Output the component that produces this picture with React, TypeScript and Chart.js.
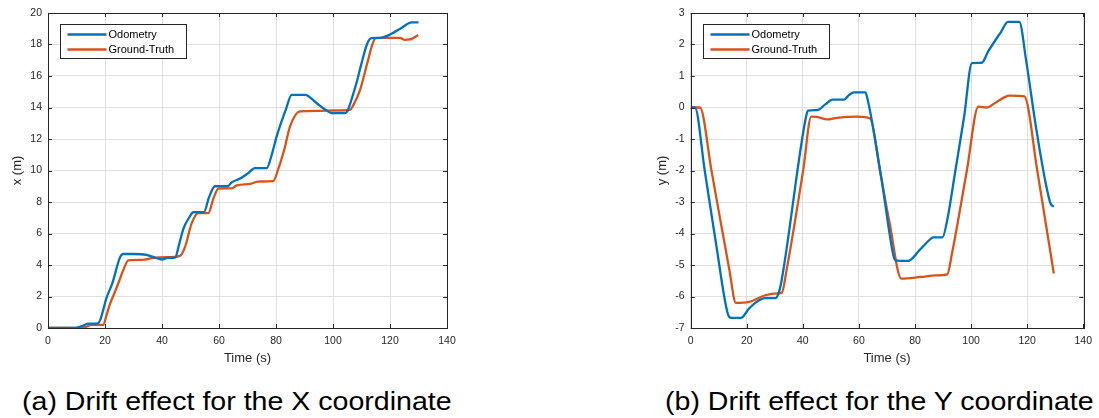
import React, { useEffect, useRef } from 'react';
import { Chart, registerables } from 'chart.js';

Chart.register(...registerables);

// ---------- data ----------
const seriesLabels = ['Odometry', 'Ground-Truth'];
const seriesColors = ['#0072BD', '#D95319'];

const timeTicks = [0, 20, 40, 60, 80, 100, 120, 140];

// (a) X coordinate
const timeOdoX = [0, 8, 10, 12, 14, 17.5, 18.5, 20.5, 22.5, 25.3, 26.4, 30, 34.5, 37, 40, 42, 44.6, 46, 47.5, 49.5, 51, 54.7, 56.5, 58.6, 63, 64.5, 67.5, 70, 72.6, 76.7, 78.5, 80.2, 83.5, 85.5, 90.2, 94.3, 97, 99.5, 104.2, 105, 107, 108.3, 110, 112, 113.5, 116.5, 119, 121, 124, 127.6, 130];
const odoX = [0, 0, 0.03, 0.12, 0.28, 0.3, 0.6, 1.9, 2.8, 4.5, 4.7, 4.7, 4.65, 4.5, 4.35, 4.45, 4.47, 5.3, 6.3, 7.0, 7.35, 7.35, 8.3, 9.0, 9.0, 9.25, 9.5, 9.8, 10.15, 10.15, 11.0, 12.15, 13.9, 14.8, 14.8, 14.27, 13.9, 13.65, 13.65, 13.75, 14.8, 15.6, 16.8, 18.05, 18.4, 18.42, 18.55, 18.73, 19.05, 19.4, 19.4];

const timeGtX = [0, 9, 11, 13, 15.3, 19.4, 20.5, 21.8, 23.5, 25, 26.4, 28.2, 33, 37, 42.8, 46.3, 48.1, 50.4, 52.7, 56.3, 58, 59.8, 64.4, 66.2, 71, 73.8, 79, 80.8, 83, 84.9, 88.4, 95, 100, 106, 107, 109.5, 112, 114, 115, 118, 123.5, 125, 127, 129.9];
const gtX = [0, 0, -0.05, 0.05, 0.2, 0.2, 0.8, 1.55, 2.3, 3.0, 3.67, 4.3, 4.32, 4.45, 4.5, 4.58, 5.15, 6.64, 7.3, 7.3, 8.2, 8.85, 8.87, 9.05, 9.15, 9.3, 9.32, 10.1, 11.4, 12.79, 13.75, 13.78, 13.82, 13.85, 14.1, 15.12, 16.8, 18.1, 18.4, 18.42, 18.42, 18.3, 18.32, 18.6];

// (b) Y coordinate
const timeOdoY = [0, 1.5, 5, 9, 13.2, 14.4, 17.9, 20.8, 23, 25.5, 26.5, 30.2, 31.5, 32.5, 41, 41.8, 45.3, 48, 50.6, 54.7, 56.5, 58.2, 62.3, 63, 68.1, 72.3, 73, 77.5, 81.6, 85.7, 86.5, 89.8, 91.5, 94.4, 97.5, 100.3, 103.8, 106.1, 110.8, 113.1, 117.2, 119.6, 123.1, 126.6, 128.3, 129.5];
const odoY = [0, 0, -2, -4.3, -6.54, -6.68, -6.68, -6.38, -6.2, -6.07, -6.05, -6.05, -5.85, -5.45, -0.35, -0.1, -0.08, 0.1, 0.25, 0.25, 0.4, 0.48, 0.48, 0.3, -2.3, -4.7, -4.85, -4.87, -4.53, -4.16, -4.12, -4.12, -3.57, -2, -0.3, 1.41, 1.42, 1.78, 2.42, 2.72, 2.72, 1.51, -0.6, -2.4, -3.04, -3.15];

const timeGtY = [0, 3.3, 7.4, 13.8, 16.1, 20.8, 26.6, 31.3, 32.5, 34.2, 40.1, 43, 45, 48.8, 52, 59.4, 64, 67.5, 71, 75.1, 82, 87.4, 91.5, 93.2, 98.5, 102.6, 105.5, 109, 113.7, 119, 123.6, 129.5];
const gtY = [0, 0, -2, -5.16, -6.2, -6.17, -5.96, -5.9, -5.88, -5.16, -2, -0.29, -0.3, -0.38, -0.33, -0.29, -0.35, -2, -3.7, -5.43, -5.38, -5.33, -5.3, -4.63, -2, 0.03, 0.0, 0.17, 0.38, 0.35, -2, -5.27];

const captions = ['(a) Drift effect for the X coordinate', '(b) Drift effect for the Y coordinate'];

// ---------- styling ----------
const FONT = "'Liberation Sans', Arial, Helvetica, sans-serif";
const AXIS = '#262626';
const GRID = '#dfdfdf';

const boxPlugin = {
  id: 'boxTicks',
  afterDraw(chart: any) {
    const { ctx, chartArea: a, scales } = chart;
    const L = 4;
    ctx.save();
    ctx.strokeStyle = AXIS;
    ctx.lineWidth = 1;
    ctx.beginPath();
    scales.x.ticks.forEach((t: any) => {
      const px = Math.round(scales.x.getPixelForValue(t.value)) + 0.5;
      ctx.moveTo(px, a.bottom); ctx.lineTo(px, a.bottom - L);
      ctx.moveTo(px, a.top); ctx.lineTo(px, a.top + L);
    });
    scales.y.ticks.forEach((t: any) => {
      const py = Math.round(scales.y.getPixelForValue(t.value)) + 0.5;
      ctx.moveTo(a.left, py); ctx.lineTo(a.left + L, py);
      ctx.moveTo(a.right, py); ctx.lineTo(a.right - L, py);
    });
    ctx.stroke();
    ctx.strokeRect(Math.round(a.left) + 0.5, Math.round(a.top) + 0.5, Math.round(a.right - a.left), Math.round(a.bottom - a.top));
    ctx.restore();
  },
};

const legendPlugin = {
  id: 'boxLegend',
  afterDraw(chart: any) {
    const { ctx, chartArea: a } = chart;
    const x = Math.round(a.left + 12) + 0.5;
    const y = Math.round(a.top + 11) + 0.5;
    const w = 126, h = 34;
    ctx.save();
    ctx.fillStyle = '#ffffff';
    ctx.fillRect(x, y, w, h);
    ctx.strokeStyle = AXIS;
    ctx.lineWidth = 1;
    ctx.strokeRect(x, y, w, h);
    ctx.font = `11px ${FONT}`;
    ctx.textBaseline = 'middle';
    chart.data.datasets.forEach((ds: any, i: number) => {
      const ry = y + 10 + i * 15;
      ctx.strokeStyle = ds.borderColor;
      ctx.lineWidth = 2.3;
      ctx.beginPath();
      ctx.moveTo(x + 7, ry);
      ctx.lineTo(x + 46, ry);
      ctx.stroke();
      ctx.fillStyle = '#000000';
      ctx.fillText(ds.label, x + 48, ry);
    });
    ctx.restore();
  },
};

type PanelProps = {
  left: number;
  width: number;
  height: number;
  yMin: number;
  yMax: number;
  yStep: number;
  yTitle: string;
  yAxisWidth: number;
  rightPad: number;
  yTitlePad: number;
  series: { t: number[]; v: number[] }[];
};

function Panel(p: PanelProps) {
  const ref = useRef<HTMLCanvasElement | null>(null);
  useEffect(() => {
    if (!ref.current) return;
    const tickFont = { family: FONT, size: 10.5 };
    const titleFont = { family: FONT, size: 13 };
    const chart = new Chart(ref.current, {
      type: 'line',
      data: {
        datasets: p.series.map((s, i) => ({
          label: seriesLabels[i],
          data: s.t.map((t, k) => ({ x: t, y: s.v[k] })),
          borderColor: seriesColors[i],
          backgroundColor: seriesColors[i],
          borderWidth: 2.3,
          pointRadius: 0,
          cubicInterpolationMode: 'monotone',
          fill: false,
        })),
      },
      options: {
        animation: false,
        responsive: false,
        maintainAspectRatio: false,
        devicePixelRatio: 1,
        layout: { padding: { top: 13, right: p.rightPad, left: 0, bottom: 0 } },
        plugins: { legend: { display: false }, tooltip: { enabled: false } },
        scales: {
          x: {
            type: 'linear',
            min: timeTicks[0],
            max: timeTicks[timeTicks.length - 1],
            afterBuildTicks: (s: any) => { s.ticks = timeTicks.map((v) => ({ value: v })); },
            ticks: { font: tickFont, color: AXIS, padding: 7, maxRotation: 0 },
            grid: { color: GRID, drawTicks: false },
            border: { display: false },
            title: { display: true, text: 'Time (s)', font: titleFont, color: AXIS, padding: { top: 0, bottom: 6 } },
            afterFit: (s: any) => { s.height = 44; },
          },
          y: {
            type: 'linear',
            min: p.yMin,
            max: p.yMax,
            ticks: { stepSize: p.yStep, font: tickFont, color: AXIS, padding: 6 },
            grid: { color: GRID, drawTicks: false },
            border: { display: false },
            title: { display: true, text: p.yTitle, font: titleFont, color: AXIS, padding: { top: p.yTitlePad, bottom: 0 } },
            afterFit: (s: any) => { s.width = p.yAxisWidth; },
          },
        },
      },
      plugins: [boxPlugin, legendPlugin],
    } as any);
    return () => chart.destroy();
  }, []);
  return (
    <canvas
      ref={ref}
      width={p.width}
      height={p.height}
      style={{ position: 'absolute', left: p.left, top: 0, width: p.width, height: p.height }}
    />
  );
}

const captionStyle: React.CSSProperties = {
  position: 'absolute',
  top: 389,
  fontFamily: FONT,
  fontSize: 25.5,
  lineHeight: 1,
  color: '#000',
  whiteSpace: 'nowrap',
  transform: 'scaleX(1.12)',
  transformOrigin: 'left top',
};

export default function App() {
  return (
    <div style={{ position: 'absolute', left: 0, top: 0, width: 1099, height: 418, background: '#fff', overflow: 'hidden' }}>
      <Panel
        left={0}
        width={470}
        height={372}
        yMin={0}
        yMax={20}
        yStep={2}
        yTitle="x (m)"
        yAxisWidth={48}
        rightPad={23}
        yTitlePad={10}
        series={[{ t: timeOdoX, v: odoX }, { t: timeGtX, v: gtX }]}
      />
      <Panel
        left={640}
        width={459}
        height={372}
        yMin={-7}
        yMax={3}
        yStep={1}
        yTitle="y (m)"
        yAxisWidth={50.7}
        rightPad={9}
        yTitlePad={15}
        series={[{ t: timeOdoY, v: odoY }, { t: timeGtY, v: gtY }]}
      />
      <div style={{ ...captionStyle, left: 22 }}>{captions[0]}</div>
      <div style={{ ...captionStyle, left: 665 }}>{captions[1]}</div>
    </div>
  );
}
